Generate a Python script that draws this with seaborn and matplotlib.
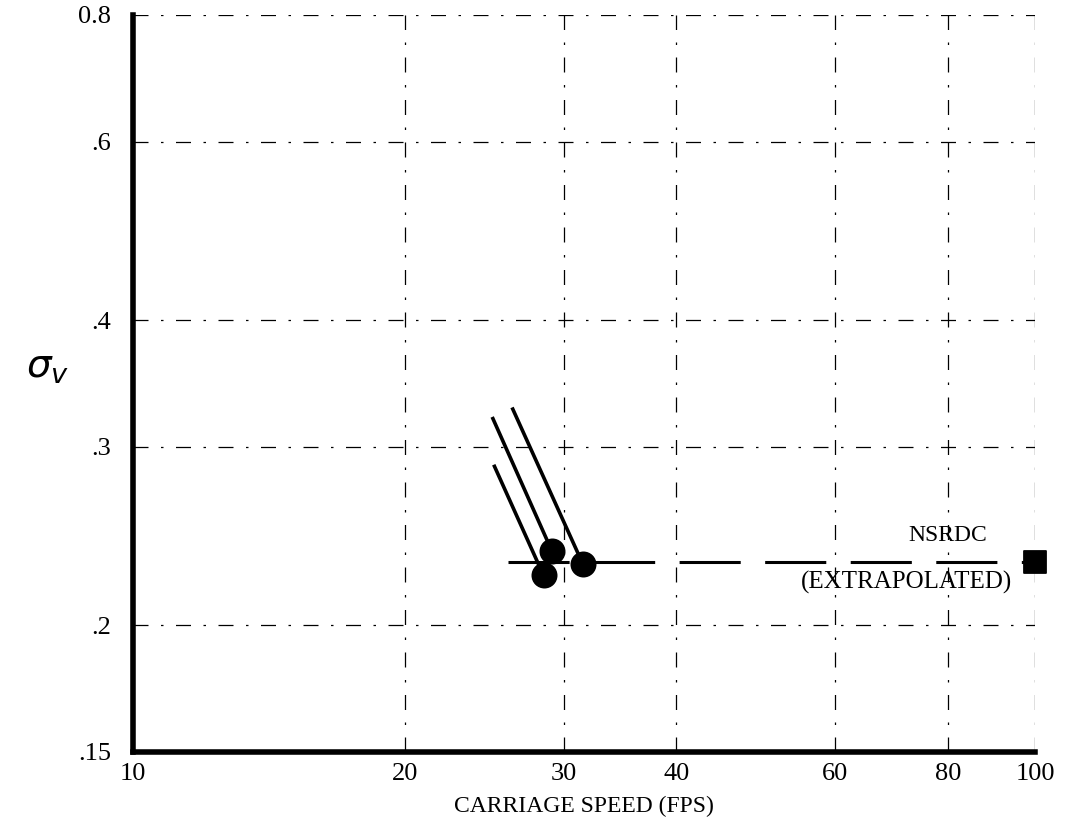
import matplotlib
matplotlib.use("Agg")
import matplotlib.pyplot as plt
import seaborn as sns
import pandas as pd

# ---- data ----
speed = [28.5, 29.1, 31.5]            # carriage speed (FPS) of test points
sigma = [0.224, 0.237, 0.230]         # sigma_v of test points
tail_speed = [25.1, 25.0, 26.3]       # upper end of each point's stem
tail_sigma = [0.288, 0.321, 0.328]
extrap_speed = [26.0, 100.0]          # NSRDC extrapolation line
extrap_sigma = [0.231, 0.231]
nsrdc_speed = [100.0]
nsrdc_sigma = [0.231]

x_ticks = [10, 20, 30, 40, 60, 80, 100]
x_ticklabels = ["10", "20", "30", "40", "60", "80", "100"]
y_ticks = [0.15, 0.2, 0.3, 0.4, 0.6, 0.8]
y_ticklabels = [".15", ".2", ".3", ".4", ".6", "0.8"]
x_grid = [20, 30, 40, 60, 80, 100]
y_grid = [0.2, 0.3, 0.4, 0.6, 0.8]

sns.set_theme(style="white")
plt.rcParams["font.family"] = ["Liberation Serif", "DejaVu Sans"]
plt.rcParams["text.color"] = "black"
plt.rcParams["axes.labelcolor"] = "black"
plt.rcParams["xtick.color"] = "black"
plt.rcParams["ytick.color"] = "black"

fig = plt.figure(figsize=(10.74, 8.25), dpi=100)
ax = fig.add_axes([0.124, 0.0885, 0.840, 0.8935])
ax.set_xscale("log")
ax.set_yscale("log")
ax.set_xlim(10, 100)
ax.set_ylim(0.15, 0.8)

# grid (dash-dot, as in the scan)
gstyle = dict(color="black", lw=0.9, linestyle=(0, (12, 10, 2, 10)), zorder=1)
for gx in x_grid:
    ax.axvline(gx, **gstyle)
for gy in y_grid:
    ax.axhline(gy, **gstyle)

# extrapolation line
df_ext = pd.DataFrame({"speed": extrap_speed, "sigma": extrap_sigma})
sns.lineplot(data=df_ext, x="speed", y="sigma", ax=ax, color="black",
             lw=2.2, zorder=2)
ax.lines[-1].set_dashes((20, 8))

# stems of the test points
for xs, ys, xt, yt in zip(speed, sigma, tail_speed, tail_sigma):
    ax.plot([xs, xt], [ys, yt], color="black", lw=2.6, solid_capstyle="butt", zorder=3)

df_pts = pd.DataFrame({"speed": speed, "sigma": sigma})
sns.scatterplot(data=df_pts, x="speed", y="sigma", ax=ax, color="black",
                s=300, marker="o", edgecolor="black", zorder=4)

df_n = pd.DataFrame({"speed": nsrdc_speed, "sigma": nsrdc_sigma})
sns.scatterplot(data=df_n, x="speed", y="sigma", ax=ax, color="black",
                s=260, marker="s", edgecolor="black", zorder=4, clip_on=False)

ax.text(80, 0.245, "NSRDC", ha="center", va="center", fontsize=17, color="black")
ax.text(72, 0.2206, "(EXTRAPOLATED)", ha="center", va="center", fontsize=18,
        color="black")

ax.set_xticks(x_ticks)
ax.set_xticklabels(x_ticklabels, fontsize=19)
ax.set_yticks(y_ticks)
ax.set_yticklabels(y_ticklabels, fontsize=19)
ax.minorticks_off()
ax.tick_params(axis="x", length=0, pad=8, labelcolor="black")
ax.tick_params(axis="y", length=0, pad=16, labelcolor="black")

ax.set_xlabel("CARRIAGE SPEED (FPS)", fontsize=17, labelpad=8, color="black")
ax.set_ylabel(r"$\sigma_{v}$", fontsize=28, rotation=0, va="center", color="black")
ax.yaxis.set_label_coords(-0.095, 0.52)

for s in ["top", "right"]:
    ax.spines[s].set_visible(False)
for s in ["left", "bottom"]:
    ax.spines[s].set_linewidth(4.0)
    ax.spines[s].set_color("black")

fig.savefig("out.png", dpi=100, facecolor="white")
